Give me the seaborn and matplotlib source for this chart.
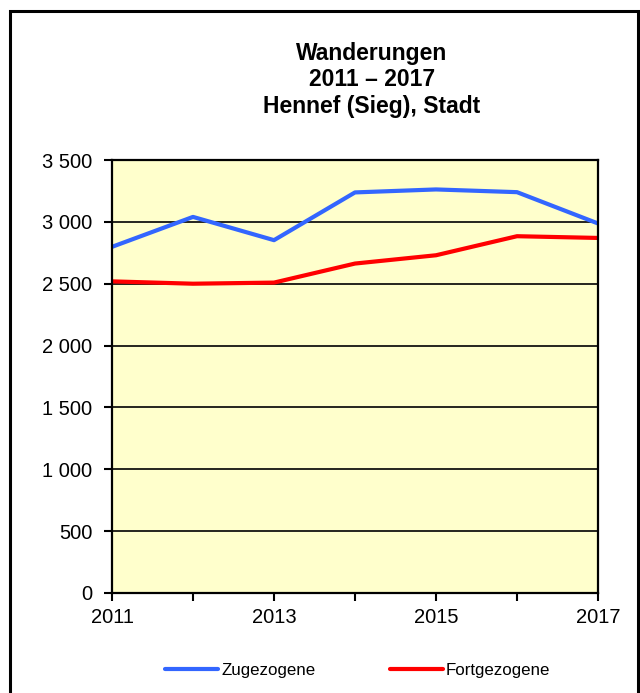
import numpy as np
import matplotlib
matplotlib.use('Agg')
import matplotlib.pyplot as plt
import matplotlib.ticker as mticker
from matplotlib.patches import Rectangle
import pandas as pd
import seaborn as sns

years = [2011, 2012, 2013, 2014, 2015, 2016, 2017]
zugezogene = [2798, 3040, 2852, 3238, 3262, 3240, 2987]
fortgezogene = [2519, 2500, 2509, 2663, 2730, 2884, 2870]
series_names = ['Zugezogene', 'Fortgezogene']
colors = ['#3366FF', '#FF0000']
title = 'Wanderungen\n2011 \u2013 2017\nHennef (Sieg), Stadt'

df = pd.DataFrame({
    'Jahr': years * 2,
    'Anzahl': zugezogene + fortgezogene,
    'Art': [series_names[0]] * len(years) + [series_names[1]] * len(years),
})

sns.set_style('white')
plt.rcParams['font.family'] = ['Liberation Sans', 'DejaVu Sans']
plt.rcParams['text.color'] = 'black'

fig = plt.figure(figsize=(6.4, 6.93), dpi=100)
ax = fig.add_axes([112/640, 1 - 593/693, (598-112)/640, (593-160)/693])
ax.set_facecolor('#FFFFCC')

sns.lineplot(data=df, x='Jahr', y='Anzahl', hue='Art', hue_order=series_names,
             palette=colors, linewidth=3, ax=ax)

ax.set_xlim(2011, 2017)
ax.set_ylim(0, 3500)
ax.set_xlabel('')
ax.set_ylabel('')

ax.yaxis.set_major_locator(mticker.MultipleLocator(500))
ax.yaxis.set_major_formatter(mticker.FuncFormatter(lambda v, p: f'{int(v):,}'.replace(',', ' ')))
ax.xaxis.set_major_locator(mticker.FixedLocator(years))
ax.xaxis.set_major_formatter(mticker.FuncFormatter(lambda v, p: str(int(v)) if int(v) % 2 == 1 else ''))
ax.tick_params(axis='both', direction='out', length=6, width=1.5, color='black',
               labelsize=14.5, labelcolor='black', left=True, bottom=True)
ax.tick_params(axis='y', pad=8)
ax.tick_params(axis='x', pad=5)

ax.grid(axis='y', color='black', linewidth=1.2)
ax.grid(axis='x', visible=False)
ax.set_axisbelow(True)
for s in ax.spines.values():
    s.set_visible(True)
    s.set_color('black')
    s.set_linewidth(1.6)

fig.text(372/640, 1 - 80/693, title, ha='center', va='center', multialignment='center',
         fontsize=16.5, fontweight='bold', color='black', linespacing=1.22)

handles, labels = ax.get_legend_handles_labels()
ax.get_legend().remove()
fig.legend(handles, labels, loc='center', bbox_to_anchor=(358/640, 1 - 670/693),
           ncol=2, frameon=False, fontsize=12.2, handlelength=3.1, handletextpad=0.2,
           columnspacing=4.4)

fig.patches.append(Rectangle((9.5/640, -0.02), (637.5-9.5)/640, 1.02 - 11.5/693,
                             transform=fig.transFigure, fill=False,
                             edgecolor='black', linewidth=2.2))

fig.savefig('out.png', dpi=100)
